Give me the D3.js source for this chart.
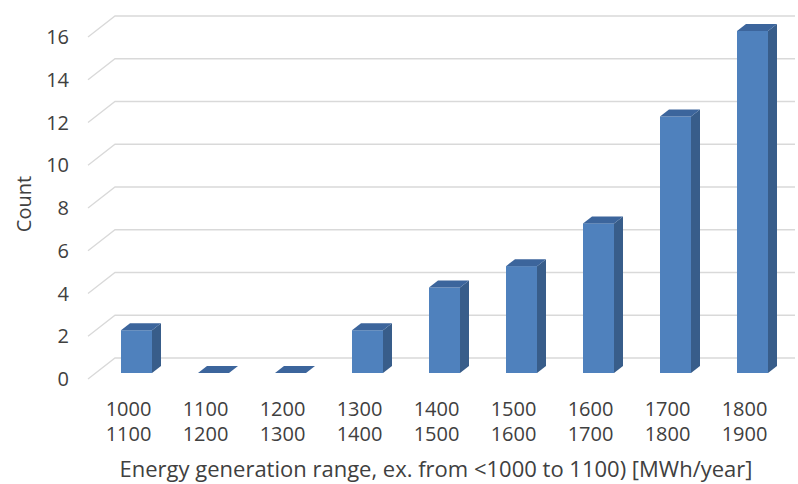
<!DOCTYPE html>
<html>
<head>
<meta charset="utf-8">
<style>
  body { margin: 0; background: #fff; }
  text { font-family: "Open Sans", sans-serif; fill: #404040; }
</style>
</head>
<body>
<div id="chart"></div>
<script src="https://d3js.org/d3.v7.min.js"></script>
<script>
// data
const lowerBounds = ["1000", "1100", "1200", "1300", "1400", "1500", "1600", "1700", "1800"];
const upperBounds = ["1100", "1200", "1300", "1400", "1500", "1600", "1700", "1800", "1900"];
const counts = [2, 0, 0, 2, 4, 5, 7, 12, 16];
const yTicks = [0, 2, 4, 6, 8, 10, 12, 14, 16];
const xTitle = "Energy generation range, ex. from <1000 to 1100) [MWh/year]";
const yTitle = "Count";

const width = 798, height = 484;

// 3d-ish geometry
const floorFront = 379, floorBack = 358;   // y of 0 at front edge / back wall
const barBase = 373;                        // y of bar front face base
const wallLeft = 115, wallRight = 795, floorLeft = 88;
const depthX = 9, depthY = -7;              // bar depth offset

const svg = d3.select("#chart").append("svg")
  .attr("width", width)
  .attr("height", height);

const cats = lowerBounds.map((d, i) => i);

const x = d3.scaleBand()
  .domain(cats)
  .range([121, 768])
  .paddingInner(46 / 77)
  .paddingOuter(0);

// value -> height in px
const h = d3.scaleLinear().domain([0, 16]).range([0, 342]);

// gridlines: diagonal on floor side + horizontal on back wall
const grid = svg.append("g").attr("fill", "none").attr("stroke", "#d9d9d9").attr("stroke-width", 1.3);
yTicks.forEach(t => {
  const yb = floorBack - h(t), yf = floorFront - h(t);
  grid.append("path")
    .attr("d", `M${floorLeft},${yf}L${wallLeft},${yb}L${wallRight},${yb}`);
});

// y tick labels
svg.append("g").selectAll("text")
  .data(yTicks)
  .join("text")
  .attr("x", 69)
  .attr("y", d => floorFront - h(d))
  .attr("dy", "0.36em")
  .attr("text-anchor", "end")
  .style("font-size", "20px")
  .text(d => d);

// bars
const bars = svg.append("g").selectAll("g")
  .data(counts)
  .join("g");

bars.each(function(v, i) {
  const g = d3.select(this);
  const x0 = x(i), bw = x.bandwidth();
  const yTop = barBase - h(v);
  if (v > 0) {
    g.append("rect")
      .attr("x", x0).attr("y", yTop)
      .attr("width", bw).attr("height", h(v))
      .attr("fill", "#4f81bd");
    // side
    g.append("path")
      .attr("d", `M${x0 + bw},${yTop}L${x0 + bw + depthX},${yTop + depthY}L${x0 + bw + depthX},${barBase + depthY}L${x0 + bw},${barBase}Z`)
      .attr("fill", "#385d8a");
  }
  // top
  g.append("path")
    .attr("d", `M${x0},${yTop}L${x0 + depthX},${yTop + depthY}L${x0 + bw + depthX},${yTop + depthY}L${x0 + bw},${yTop}Z`)
    .attr("fill", "#3c659c");
});

// x category labels (two lines)
const lx = d => x(d) + x.bandwidth() / 2 - 8;
const xl = svg.append("g").selectAll("text")
  .data(cats)
  .join("text")
  .attr("text-anchor", "middle")
  .style("font-size", "20px");
xl.append("tspan").attr("x", lx).attr("y", 416).text(d => lowerBounds[d]);
xl.append("tspan").attr("x", lx).attr("y", 441).text(d => upperBounds[d]);

// axis titles
svg.append("text")
  .attr("x", 436).attr("y", 477)
  .attr("text-anchor", "middle")
  .style("font-size", "22px")
  .text(xTitle);

svg.append("text")
  .attr("transform", "translate(31,204) rotate(-90)")
  .attr("text-anchor", "middle")
  .style("font-size", "20px")
  .text(yTitle);
</script>
</body>
</html>
